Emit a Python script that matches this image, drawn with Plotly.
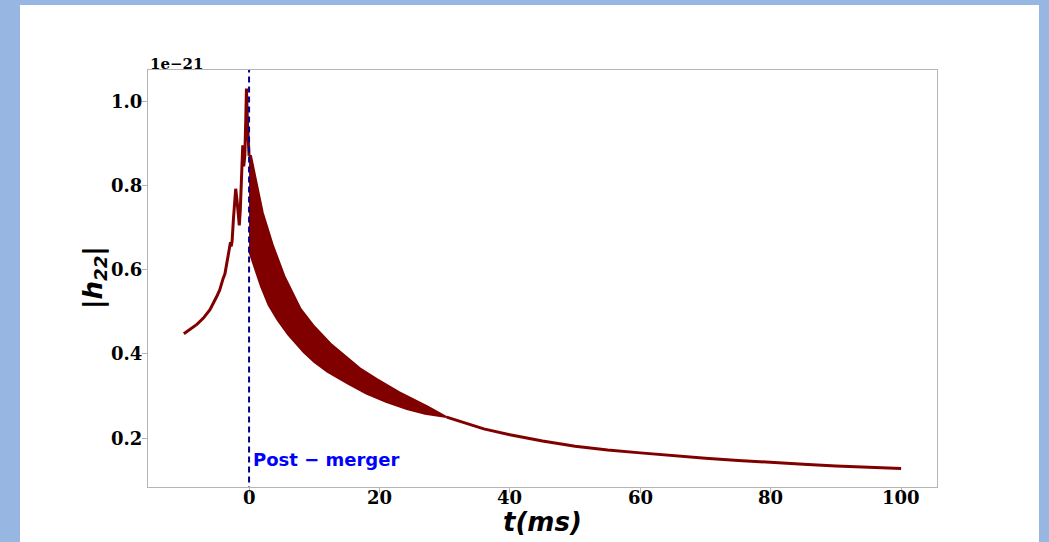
import plotly.graph_objects as go

# ---- data (values in units of 1e-21) ----
t_pre = [-10, -9, -8, -7, -6, -5, -4.5, -4, -3.7, -3.45, -3.2, -3.0, -2.85, -2.75, -2.6,
         -2.4, -2.2, -2.05, -1.85, -1.65, -1.5, -1.35, -1.15, -0.97, -0.82, -0.65, -0.5,
         -0.4, -0.25, -0.1, 0.0]
h_pre = [0.448, 0.458, 0.470, 0.485, 0.505, 0.535, 0.552, 0.578, 0.590, 0.612, 0.635, 0.655,
         0.665, 0.655, 0.668, 0.720, 0.780, 0.792, 0.765, 0.720, 0.705, 0.740, 0.850, 0.895,
         0.845, 0.870, 0.960, 1.030, 0.950, 0.885, 0.870]

t_upper = [0.0, 0.3, 1.07, 2.1, 3.6, 5.4, 7.9, 10.0, 12.5, 15.0, 17.0, 19.6, 23.0, 27.4, 30.3]
h_upper = [0.870, 0.870, 0.812, 0.735, 0.660, 0.585, 0.507, 0.465, 0.424, 0.391, 0.366, 0.340,
           0.309, 0.275, 0.250]

t_lower = [0.0, 0.3, 1.0, 1.83, 3.0, 4.4, 6.0, 8.4, 10.0, 12.0, 15.1, 18.0, 21.0, 24.2, 27.0, 30.3]
h_lower = [0.645, 0.635, 0.598, 0.560, 0.516, 0.480, 0.446, 0.404, 0.381, 0.358, 0.330, 0.306,
           0.286, 0.269, 0.258, 0.250]

t_tail = [30.3, 33, 36, 40, 45, 50, 55, 60, 65, 70, 75, 80, 85, 90, 95, 100]
h_tail = [0.250, 0.236, 0.222, 0.208, 0.193, 0.181, 0.172, 0.165, 0.158, 0.152, 0.147, 0.142,
          0.138, 0.134, 0.131, 0.128]

x_ticks = [0, 20, 40, 60, 80, 100]
x_ticktext = ["0", "20", "40", "60", "80", "100"]
y_ticks = [0.2, 0.4, 0.6, 0.8, 1.0]
y_ticktext = ["0.2", "0.4", "0.6", "0.8", "1.0"]
merger_time = 0.0

RED = "#800000"
TICKFONT = dict(family="DejaVu Serif", size=18, color="black", weight="bold")

fig = go.Figure()

# post-merger oscillation band (envelope polygon)
fig.add_trace(go.Scatter(
    x=t_upper + t_lower[::-1], y=h_upper + h_lower[::-1],
    mode="lines", fill="toself", fillcolor=RED,
    line=dict(color=RED, width=2), hoverinfo="skip", showlegend=False))

# pre-merger
fig.add_trace(go.Scatter(x=t_pre, y=h_pre, mode="lines",
                         line=dict(color=RED, width=3), showlegend=False))
# tail
fig.add_trace(go.Scatter(x=t_tail, y=h_tail, mode="lines",
                         line=dict(color=RED, width=3), showlegend=False))

# vertical merger line
fig.add_trace(go.Scatter(x=[merger_time, merger_time], y=[0.0, 1.2], mode="lines",
                         line=dict(color="#00008B", width=2, dash="6px,4px"),
                         showlegend=False))

# framing: blue page background with white slide
fig.add_shape(type="rect", xref="paper", yref="paper",
              x0=-0.1622, x1=1.1293, y0=-0.14, y1=1.1559,
              fillcolor="white", line=dict(width=0), layer="below")

# tick labels placed close to the axes (as in the reference)
for xv, txt in zip(x_ticks, x_ticktext):
    fig.add_annotation(text=txt, x=xv, y=0, xref="x", yref="paper",
                       xanchor="center", yanchor="middle", yshift=-10, showarrow=False,
                       font=TICKFONT)
for yv, txt in zip(y_ticks, y_ticktext):
    fig.add_annotation(text=txt, x=0, y=yv, xref="paper", yref="y",
                       xanchor="right", yanchor="middle", xshift=-4, showarrow=False,
                       font=TICKFONT)

fig.add_annotation(text="Post \u2212 merger", x=0.3, y=0.15, xref="x", yref="y",
                   xanchor="left", yanchor="middle", showarrow=False,
                   font=dict(family="DejaVu Sans", size=18, color="#0000FF", weight="bold"))
fig.add_annotation(text="1e\u221221", x=0.0, y=1.0, xref="paper", yref="paper",
                   xanchor="left", yanchor="bottom", yshift=-5, showarrow=False,
                   font=dict(family="DejaVu Serif", size=15, color="black", weight="bold"))
fig.add_annotation(text="<b><i>t(ms)</i></b>", x=0.5006, y=0, xref="paper", yref="paper",
                   xanchor="center", yanchor="middle", yshift=-35, showarrow=False,
                   font=dict(family="DejaVu Sans", size=26, color="black"))
fig.add_annotation(text="<b><i>|h<sub>22</sub>|</i></b>", x=-0.0672, y=0.5036,
                   xref="paper", yref="paper", textangle=-90,
                   xanchor="center", yanchor="middle", showarrow=False,
                   font=dict(family="DejaVu Sans", size=26, color="black"))

axis_common = dict(showgrid=False, zeroline=False, showline=True, mirror=True,
                   linecolor="#b5b5b5", linewidth=1, ticks="outside", ticklen=5,
                   tickcolor="#b5b5b5", showticklabels=False)

fig.update_layout(
    width=1049, height=542,
    margin=dict(l=148, r=112, t=70, b=55),
    paper_bgcolor="#97b6e2", plot_bgcolor="white",
    xaxis=dict(range=[-15.5, 105.5], tickvals=x_ticks, **axis_common),
    yaxis=dict(range=[0.084, 1.074], tickvals=y_ticks, **axis_common),
)

fig.write_html("out.html")
